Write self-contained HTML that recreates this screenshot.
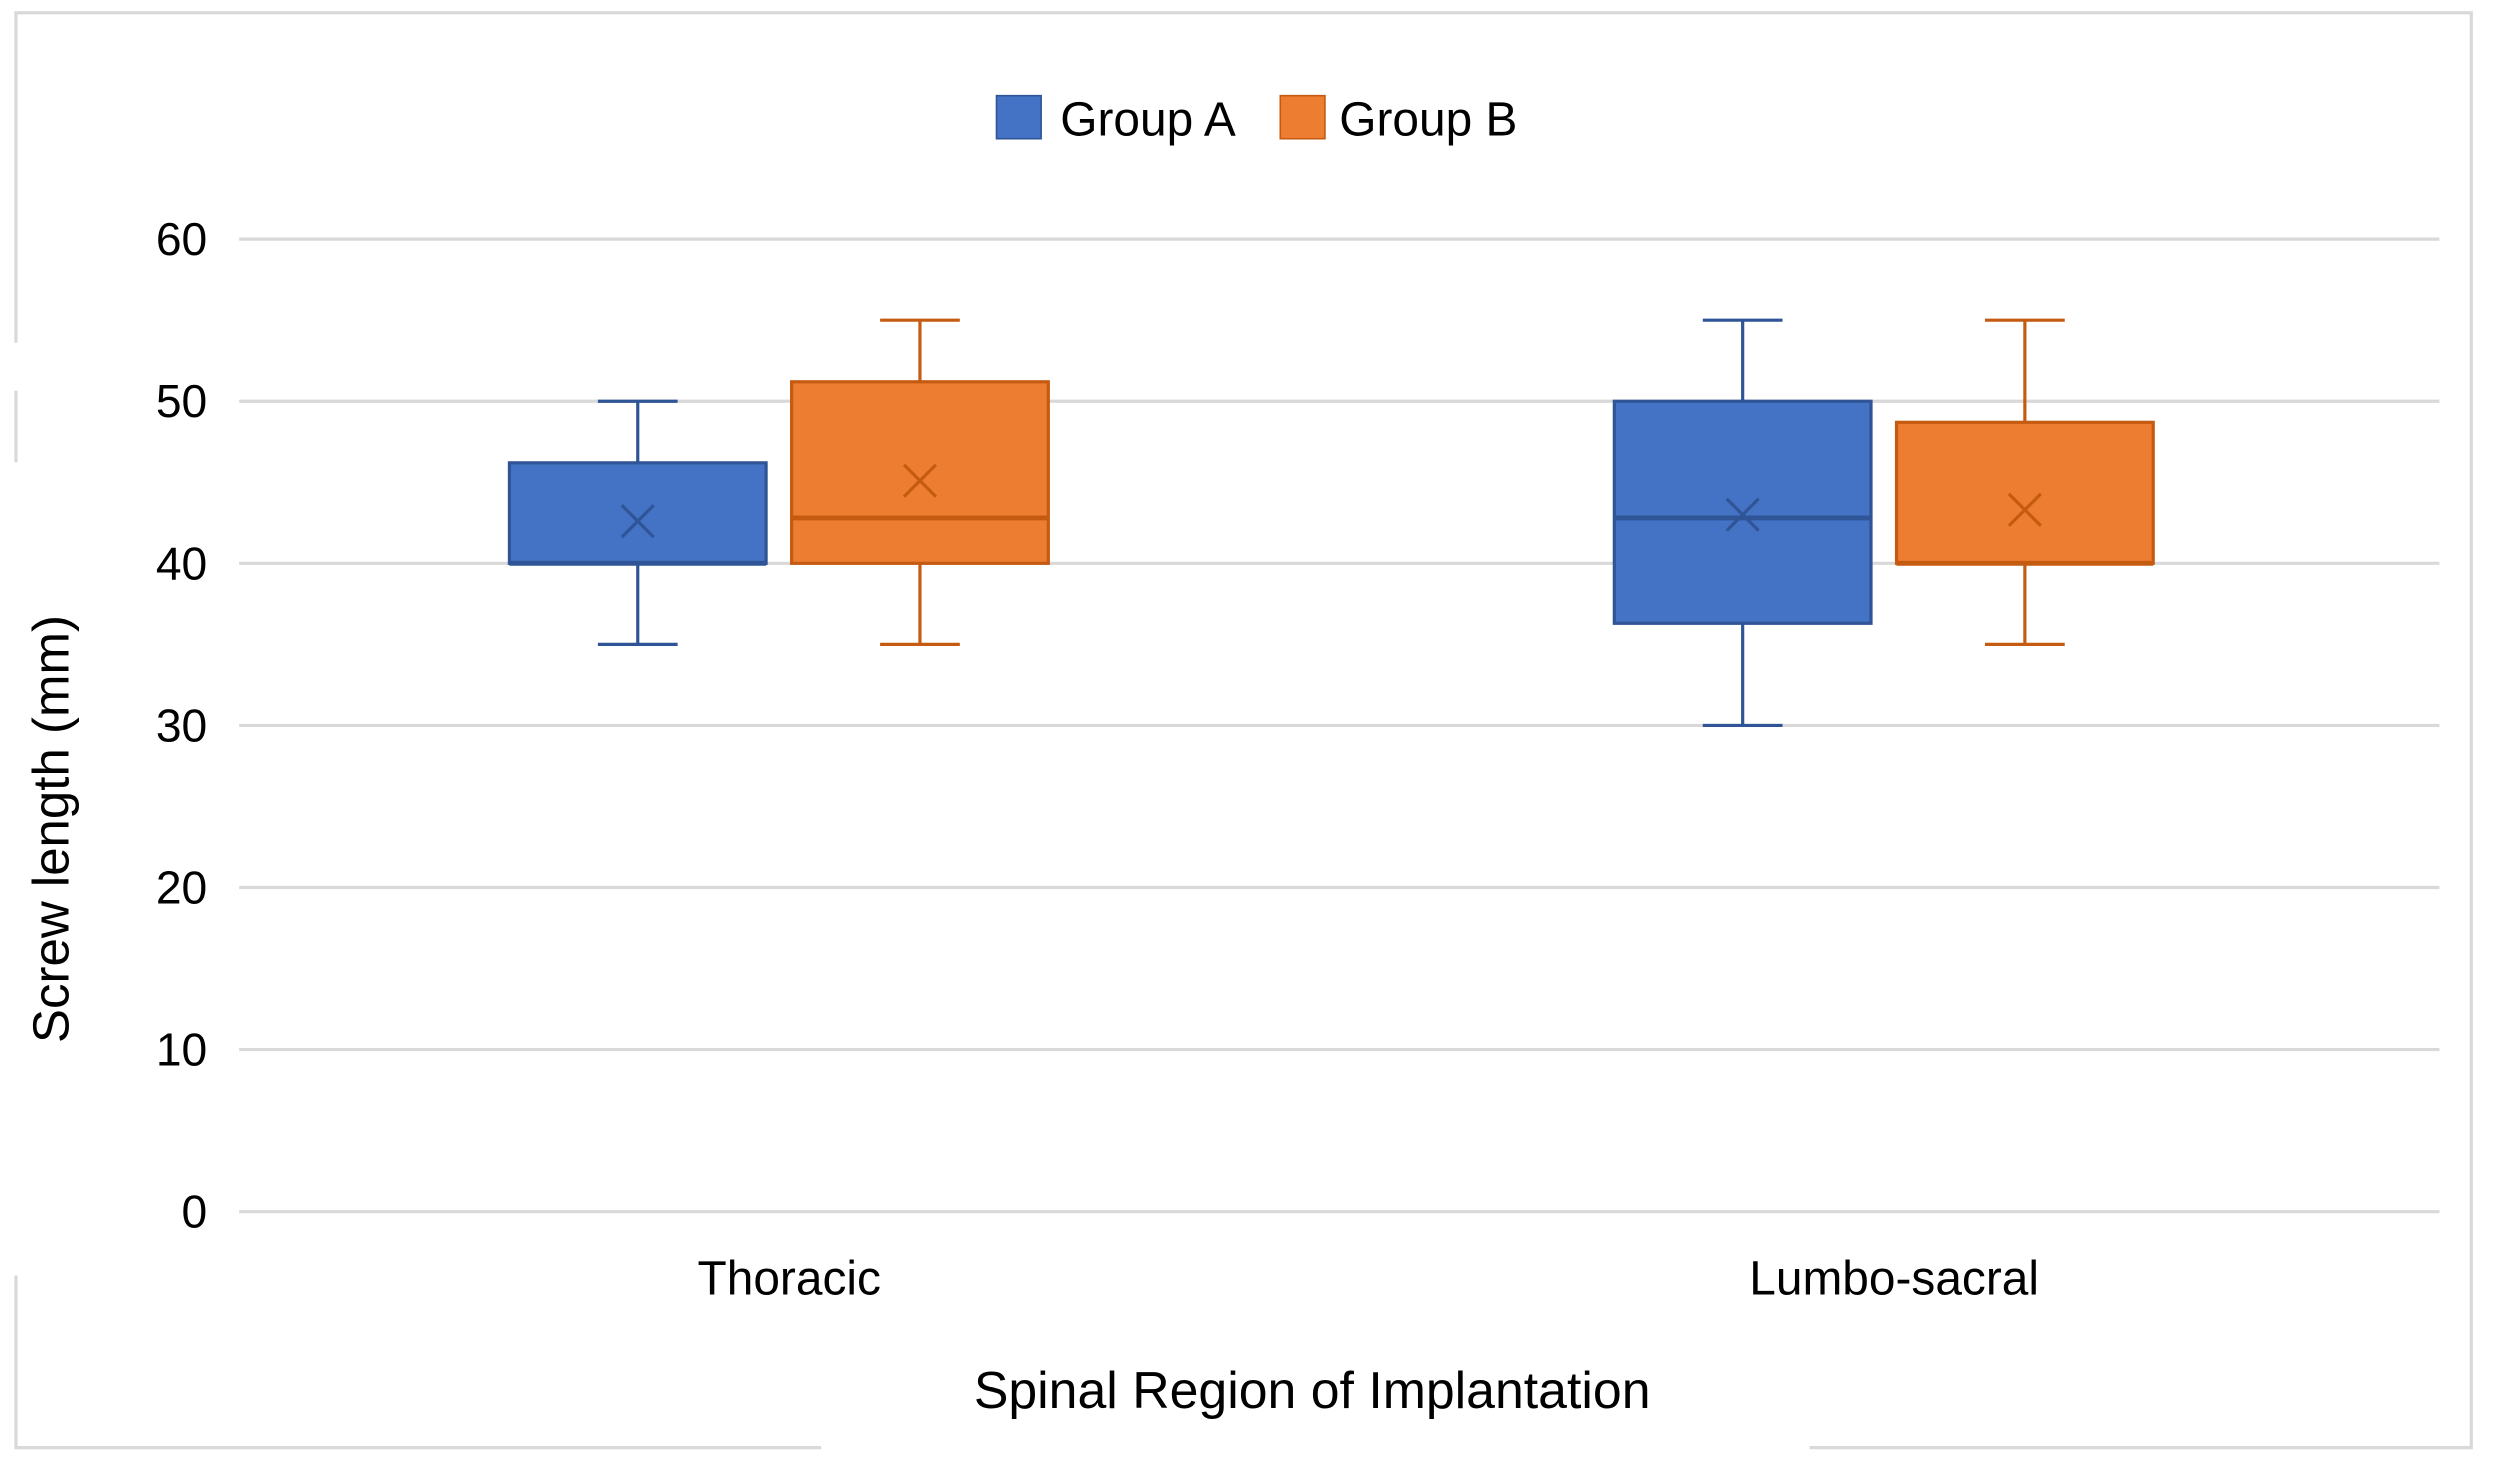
<!DOCTYPE html>
<html><head><meta charset="utf-8"><style>
html,body{margin:0;padding:0;background:#fff;}
svg{display:block;font-family:"Liberation Sans",sans-serif;}
</style></head><body>
<svg id="chart" width="2500" height="1458" viewBox="0 0 1568 914.5" preserveAspectRatio="none" xmlns="http://www.w3.org/2000/svg">
<g stroke="#d9d9d9" stroke-width="2" fill="none">
<polyline points="10,215 10,8 1550,8 1550,908 1135,908"/>
<polyline points="515,908 10,908 10,800"/>
<line x1="10" y1="245" x2="10" y2="290"/>
</g>
<g id="grid"></g>
<g id="yticks"></g>
<g id="xlabels"></g>
<g id="boxes"></g>
<text x="0" y="0" transform="translate(43,520) rotate(-90)" text-anchor="middle" font-size="32" fill="#000">Screw length (mm)</text>
<text x="823" y="883" text-anchor="middle" font-size="32.5" fill="#000">Spinal Region of Implantation</text>
<g>
<g><rect x="625" y="60" width="28" height="27" fill="#4472C4" stroke="#2f5597" stroke-width="1"/><text x="665" y="85" font-size="30">Group A</text></g>
<g><rect x="803" y="60" width="28" height="27" fill="#ED7D31" stroke="#c55a11" stroke-width="1"/><text x="840" y="85" font-size="30">Group B</text></g>
</g>
</svg>
<script>
const categories = ["Thoracic", "Lumbo-sacral"];
const seriesNames = ["Group A", "Group B"];
const yTicks = [0, 10, 20, 30, 40, 50, 60];
const groupA_min = [35, 30];
const groupA_q1 = [40, 36.3];
const groupA_median = [40, 42.8];
const groupA_q3 = [46.2, 50];
const groupA_max = [50, 55];
const groupA_mean = [42.6, 43.0];
const groupB_min = [35, 35];
const groupB_q1 = [40, 40];
const groupB_median = [42.8, 40];
const groupB_q3 = [51.2, 48.7];
const groupB_max = [55, 55];
const groupB_mean = [45.1, 43.3];

const NS = "http://www.w3.org/2000/svg";
const L = 150, R = 1530, T = 150, B = 760, YMAX = 60;
const y = v => B - (v / YMAX) * (B - T);
const catW = (R - L) / categories.length;
const xc = i => L + catW * (i + 0.5) + i * 3;
function mk(tag, attrs, parent) { const e = document.createElementNS(NS, tag); for (const k in attrs) e.setAttribute(k, attrs[k]); parent.appendChild(e); return e; }

const grid = document.getElementById('grid');
const yt = document.getElementById('yticks');
yTicks.forEach(t => {
  const g = mk('line', {x1: L, x2: R, y1: y(t), y2: y(t), stroke: '#d9d9d9', 'stroke-width': 2}, grid);
  
  
  const tx = mk('text', {x: 130, y: y(t) + 10, 'text-anchor': 'end', 'font-size': 29}, yt);
  tx.textContent = t;
  
  
});
const xl = document.getElementById('xlabels');
categories.forEach((c, i) => {
  const tx = mk('text', {x: xc(i), y: 812, 'text-anchor': 'middle', 'font-size': 30}, xl);
  tx.textContent = c;
  
  
});

const boxes = document.getElementById('boxes');
const series = [
  {mn: groupA_min, q1: groupA_q1, md: groupA_median, q3: groupA_q3, mx: groupA_max, mean: groupA_mean, fill: '#4472C4', dark: '#2f5597', off: -95},
  {mn: groupB_min, q1: groupB_q1, md: groupB_median, q3: groupB_q3, mx: groupB_max, mean: groupB_mean, fill: '#ED7D31', dark: '#c55a11', off: 82}
];
const bw = 161, cap = 25, xs = 10;
categories.forEach((c, i) => {
  series.forEach((s, si) => {
    const cx = xc(i) + s.off;
    const g = mk('g', {}, boxes);
    
    
    const st = {stroke: s.dark, 'stroke-width': 2};
    mk('line', Object.assign({x1: cx, x2: cx, y1: y(s.mx[i]), y2: y(s.q3[i])}, st), g);
    mk('line', Object.assign({x1: cx, x2: cx, y1: y(s.q1[i]), y2: y(s.mn[i])}, st), g);
    mk('line', Object.assign({x1: cx - cap, x2: cx + cap, y1: y(s.mx[i]), y2: y(s.mx[i])}, st), g);
    mk('line', Object.assign({x1: cx - cap, x2: cx + cap, y1: y(s.mn[i]), y2: y(s.mn[i])}, st), g);
    mk('rect', {x: cx - bw / 2, y: y(s.q3[i]), width: bw, height: y(s.q1[i]) - y(s.q3[i]), fill: s.fill, stroke: s.dark, 'stroke-width': 2}, g);
    mk('line', Object.assign({x1: cx - bw / 2, x2: cx + bw / 2, y1: y(s.md[i]), y2: y(s.md[i])}, st, {'stroke-width': 3}), g);
    const my = y(s.mean[i]);
    mk('path', {d: `M${cx - xs},${my - xs}L${cx + xs},${my + xs}M${cx + xs},${my - xs}L${cx - xs},${my + xs}`, stroke: s.dark, 'stroke-width': 2, fill: 'none'}, g);
  });
});
</script>
</body></html>
